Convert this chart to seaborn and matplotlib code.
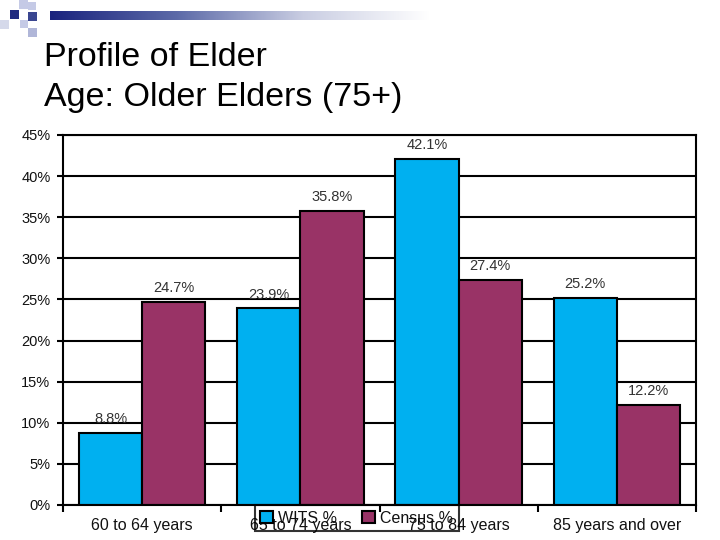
import matplotlib
matplotlib.use('Agg')
import matplotlib.pyplot as plt
import seaborn as sns
import numpy as np
import pandas as pd

categories = ['60 to 64 years', '65 to 74 years', '75 to 84 years', '85 years and over']
wits = [8.8, 23.9, 42.1, 25.2]
census = [24.7, 35.8, 27.4, 12.2]
series = ['WITS %', 'Census %']
yticks = [0, 5, 10, 15, 20, 25, 30, 35, 40, 45]

df = pd.DataFrame({
    'age': categories * 2,
    'series': [series[0]] * 4 + [series[1]] * 4,
    'value': wits + census,
})

sns.set_style('white')
plt.rcParams['font.family'] = ['Liberation Sans', 'DejaVu Sans']

fig = plt.figure(figsize=(7.2, 5.4), dpi=100)

# decoration: squares and gradient strip top-left
deco = fig.add_axes([0, 0, 1, 1], zorder=-1)
deco.set_xlim(0, 720)
deco.set_ylim(540, 0)
deco.axis('off')
grad = np.linspace(0, 1, 256).reshape(1, -1)
cmap = matplotlib.colors.LinearSegmentedColormap.from_list('g', ['#1a237e', '#5c6aa8', '#c9cde2', '#ffffff'])
deco.imshow(grad, cmap=cmap, extent=[50, 430, 20, 11], aspect='auto')
sq = [(10, 10, 9, '#1f2a80'), (19, 10, 8, '#ffffff'), (19, 0, 9, '#c5cae6'), (28, 2, 8, '#c5cae6'),
      (0, 20, 9, '#d5d9ea'), (28, 12, 9, '#3a4690'), (20, 20, 8, '#c5cae6'), (28, 28, 9, '#b0b6d8')]
for x, y, s, c in sq:
    deco.add_patch(plt.Rectangle((x, y), s, s, color=c, lw=0))

fig.text(44, 540 - 106, 'Profile of Elder\nAge: Older Elders (75+)', transform=None,
         fontsize=24.5, va='baseline', ha='left', linespacing=1.36, color='black')

ax = fig.add_axes([63 / 720, 35 / 540, 633 / 720, 370 / 540])
sns.barplot(data=df, x='age', y='value', hue='series', order=categories, hue_order=series,
            palette=['#00B0F0', '#993366'], edgecolor='black', linewidth=1.5,
            width=0.8, saturation=1, ax=ax, legend=True)

ax.set_ylim(0, 45)
ax.set_yticks(yticks)
ax.set_yticklabels([f'{t}%' for t in yticks])
ax.set_axisbelow(True)
ax.yaxis.grid(True, color='black', linewidth=1.5)
ax.set_xlabel('')
ax.set_ylabel('')
for sp in ax.spines.values():
    sp.set_color('black')
    sp.set_linewidth(1.5)
ax.tick_params(axis='y', which='major', left=True, length=4, width=1.5, labelsize=10.5, pad=5,
               colors='black', labelcolor='#111111')
ax.tick_params(axis='x', which='major', bottom=False, labelsize=11.5, pad=6, labelcolor='#111111')
ax.set_xticks([i + 0.5 for i in range(-1, 4)], minor=True)
ax.tick_params(axis='x', which='minor', bottom=True, length=5, width=1.5, color='black')
ax.set_xlim(-0.5, 3.5)

for cont in ax.containers:
    ax.bar_label(cont, labels=[f'{v:.1f}%' for v in cont.datavalues], padding=5, fontsize=10.5, color='#333333')

leg = ax.legend(loc='upper center', bbox_to_anchor=(0.464, 0.0), ncol=2, frameon=True,
                fontsize=11.5, handlelength=0.8, handleheight=0.8, handletextpad=0.3,
                columnspacing=1.6, borderpad=0.35, borderaxespad=0, fancybox=False)
leg.get_frame().set_edgecolor('black')
leg.get_frame().set_linewidth(1.5)
leg.get_frame().set_facecolor('none')
for h in leg.legend_handles:
    h.set_edgecolor('black')
    h.set_linewidth(1.5)
for t in leg.get_texts():
    t.set_color('#111111')

fig.savefig('out.png', dpi=100)
